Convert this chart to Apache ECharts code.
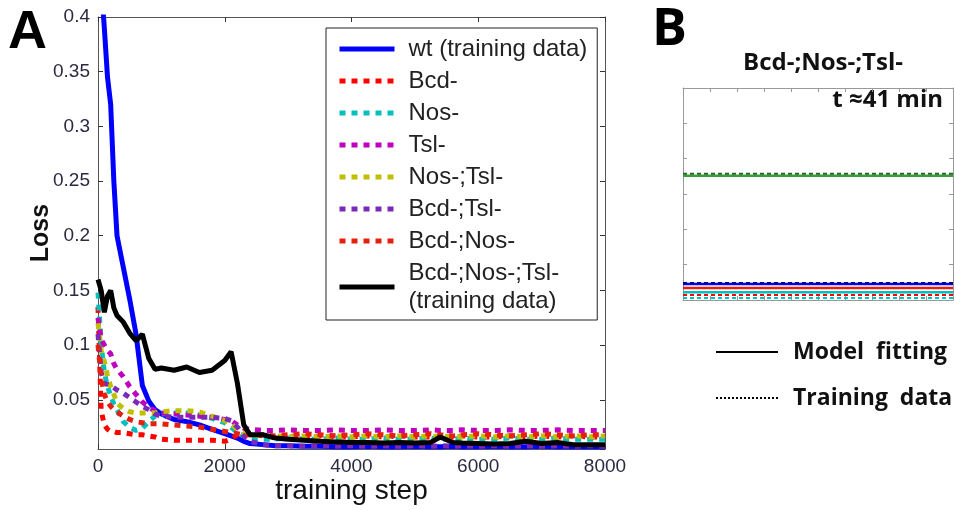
<!DOCTYPE html>
<html>
<head>
<meta charset="utf-8">
<script src="https://cdn.jsdelivr.net/npm/echarts@6/dist/echarts.min.js"></script>
<style>
  html, body { margin: 0; padding: 0; background: #fff; }
  #chart { width: 954px; height: 510px; }
</style>
</head>
<body>
<div id="chart"></div>
<script>
// training steps shared by every loss curve
const steps = [0, 50, 100, 150, 200, 250, 300, 400, 500, 600, 700, 800, 900, 1000, 1200, 1400, 1600, 1800, 2000, 2100, 2200, 2300,
  2400, 2600, 2800, 3000, 3250, 3500, 3750, 4000, 4250, 4500, 4750, 5000, 5250, 5400, 5600, 5750, 6000, 6250, 6500, 6750, 7000, 7250, 7500, 7750, 8000];

const lossWt = [0.46, 0.43, 0.39, 0.345, 0.32, 0.25, 0.2, 0.171, 0.142, 0.11, 0.063, 0.049, 0.041, 0.037, 0.032, 0.030, 0.027, 0.023, 0.019, 0.017, 0.015, 0.012,
  0.010, 0.009, 0.008, 0.008, 0.0075, 0.0075, 0.007, 0.007, 0.0075, 0.007, 0.007, 0.0075, 0.007, 0.007, 0.0075, 0.007, 0.007, 0.0075, 0.007, 0.007, 0.0075, 0.007, 0.007, 0.007, 0.007];
const lossBcd = [0.135, 0.04, 0.027, 0.023, 0.021, 0.021, 0.020, 0.020, 0.019, 0.018, 0.018, 0.017, 0.016, 0.014, 0.013, 0.013, 0.013, 0.013, 0.012, 0.014, 0.018, 0.019,
  0.018, 0.017, 0.016, 0.017, 0.016, 0.017, 0.016, 0.016, 0.017, 0.016, 0.017, 0.016, 0.016, 0.017, 0.016, 0.017, 0.016, 0.016, 0.017, 0.016, 0.017, 0.016, 0.017, 0.016, 0.016];
const lossNos = [0.148, 0.1, 0.075, 0.062, 0.054, 0.046, 0.041, 0.03, 0.025, 0.022, 0.024, 0.030, 0.035, 0.037, 0.038, 0.038, 0.036, 0.033, 0.029, 0.025, 0.02, 0.017,
  0.015, 0.014, 0.014, 0.015, 0.014, 0.014, 0.015, 0.014, 0.014, 0.015, 0.014, 0.014, 0.015, 0.014, 0.014, 0.015, 0.014, 0.014, 0.015, 0.014, 0.014, 0.015, 0.014, 0.014, 0.014];
const lossTsl = [0.125, 0.105, 0.1, 0.095, 0.092, 0.083, 0.078, 0.071, 0.062, 0.055, 0.048, 0.043, 0.04, 0.038, 0.037, 0.036, 0.035, 0.034, 0.032, 0.031, 0.027, 0.024,
  0.023, 0.022, 0.022, 0.0225, 0.022, 0.022, 0.0225, 0.022, 0.022, 0.0225, 0.022, 0.022, 0.0225, 0.022, 0.022, 0.0225, 0.022, 0.022, 0.0225, 0.022, 0.022, 0.0225, 0.022, 0.022, 0.022];
const lossNosTsl = [0.12, 0.095, 0.085, 0.072, 0.062, 0.055, 0.047, 0.042, 0.039, 0.038, 0.038, 0.038, 0.038, 0.039, 0.040, 0.040, 0.039, 0.035, 0.031, 0.028, 0.023, 0.019,
  0.018, 0.017, 0.017, 0.016, 0.017, 0.016, 0.017, 0.016, 0.017, 0.016, 0.017, 0.016, 0.017, 0.016, 0.017, 0.016, 0.017, 0.016, 0.017, 0.016, 0.017, 0.016, 0.017, 0.016, 0.017];
const lossBcdTsl = [0.11, 0.075, 0.065, 0.064, 0.063, 0.061, 0.059, 0.056, 0.052, 0.048, 0.044, 0.041, 0.037, 0.035, 0.034, 0.034, 0.034, 0.034, 0.033, 0.031, 0.025, 0.017,
  0.012, 0.009, 0.008, 0.008, 0.0075, 0.008, 0.0075, 0.008, 0.0075, 0.008, 0.0075, 0.008, 0.0075, 0.008, 0.0075, 0.008, 0.0075, 0.008, 0.0075, 0.008, 0.0075, 0.008, 0.0075, 0.008, 0.0075];
const lossBcdNos = [0.1, 0.07, 0.055, 0.048, 0.044, 0.041, 0.039, 0.035, 0.032, 0.030, 0.029, 0.028, 0.028, 0.028, 0.027, 0.026, 0.025, 0.023, 0.021, 0.020, 0.019, 0.018,
  0.018, 0.018, 0.017, 0.018, 0.019, 0.018, 0.017, 0.018, 0.019, 0.018, 0.017, 0.018, 0.019, 0.018, 0.017, 0.018, 0.019, 0.018, 0.017, 0.018, 0.019, 0.018, 0.017, 0.018, 0.018];
const lossTriple = [0.16, 0.15, 0.13, 0.145, 0.15, 0.134, 0.127, 0.121, 0.111, 0.104, 0.110, 0.088, 0.078, 0.079, 0.077, 0.080, 0.075, 0.077, 0.086, 0.094, 0.065, 0.027,
  0.018, 0.018, 0.015, 0.014, 0.013, 0.012, 0.0115, 0.011, 0.011, 0.0105, 0.011, 0.0105, 0.011, 0.016, 0.011, 0.0105, 0.010, 0.0095, 0.010, 0.012, 0.010, 0.011, 0.009, 0.009, 0.009];

const seriesNames = ['wt (training data)', 'Bcd-', 'Nos-', 'Tsl-', 'Nos-;Tsl-', 'Bcd-;Tsl-', 'Bcd-;Nos-', 'Bcd-;Nos-;Tsl-\n(training data)'];
const seriesColors = ['#0000ff', '#ff0000', '#00bfbf', '#bf00bf', '#bfbf00', '#7a2ab8', '#e5200e', '#000000'];
const seriesLoss = [lossWt, lossBcd, lossNos, lossTsl, lossNosTsl, lossBcdTsl, lossBcdNos, lossTriple];

// panel B: flat profiles (model fitting solid, training data dotted)
const bX = [0, 1];
const bFitLevels = [3.52, 0.45, 0.34, 0.22];
const bFitColors = ['#3c9c3c', '#0000ff', '#e5200e', '#00bfbf'];
const bDataLevels = [3.57, 0.48, 0.14, 0.06];
const bDataColors = ['#1e6a1e', '#00008b', '#ff0000', '#00bfbf'];

let myChart = echarts.init(document.getElementById('chart'));

let series = seriesNames.map(function (name, i) {
  let solid = (i === 0 || i === 7);
  return {
    name: name,
    type: 'line',
    xAxisIndex: 0,
    yAxisIndex: 0,
    symbol: 'none',
    clip: true,
    data: steps.map(function (s, k) { return [s, seriesLoss[i][k]]; }),
    lineStyle: {
      color: seriesColors[i],
      width: 5,
      type: solid ? 'solid' : [6, 6],
      cap: 'butt'
    },
    itemStyle: { color: seriesColors[i] }
  };
});

bFitLevels.forEach(function (v, i) {
  series.push({
    type: 'line', xAxisIndex: 2, yAxisIndex: 2, symbol: 'none', silent: true,
    data: bX.map(function (x) { return [x, v]; }),
    lineStyle: { color: bFitColors[i], width: 2.5 }
  });
});
bDataLevels.forEach(function (v, i) {
  series.push({
    type: 'line', xAxisIndex: 2, yAxisIndex: 2, symbol: 'none', silent: true,
    data: bX.map(function (x) { return [x, v]; }),
    lineStyle: { color: bDataColors[i], width: 2, type: [4, 3] }
  });
});

let tickLabel = { color: '#2a2a40', fontSize: 19, fontFamily: 'Liberation Sans, Arial, sans-serif' };
let boxLine = { show: true, onZero: false, lineStyle: { color: '#555', width: 1 } };
let boxTick = { show: true, inside: true, length: 5, lineStyle: { color: '#333' } };
let bLine = { show: true, onZero: false, lineStyle: { color: '#999', width: 1 } };
let bTick = { show: true, inside: true, length: 4, lineStyle: { color: '#999' } };
let boldB = 'Open Sans, sans-serif';

let option = {
  animation: false,
  backgroundColor: '#fff',
  grid: [
    { left: 98, top: 17, width: 507, height: 433 },
    { left: 683, top: 88, width: 270, height: 212 }
  ],
  legend: {
    data: seriesNames,
    orient: 'vertical',
    left: 326,
    top: 28,
    itemWidth: 55,
    itemHeight: 14,
    itemGap: 4,
    padding: [7, 10, 5, 11],
    backgroundColor: '#fff',
    borderColor: '#222',
    borderWidth: 1,
    selectedMode: false,
    itemStyle: { opacity: 0 },
    lineStyle: { width: 5 },
    textStyle: { color: '#222', fontSize: 24, lineHeight: 28, fontFamily: 'Liberation Sans, Arial, sans-serif', padding: [0, 0, 0, 9] }
  },
  xAxis: [
    {
      type: 'value', gridIndex: 0, min: 0, max: 8000, interval: 2000,
      name: 'training step', nameLocation: 'middle', nameGap: 28, nameMoveOverlap: false,
      nameTextStyle: { color: '#111', fontSize: 28, fontFamily: 'Liberation Sans, Arial, sans-serif' },
      axisLine: boxLine, axisTick: boxTick,
      axisLabel: Object.assign({ margin: 8, formatter: function (v) { return String(v); } }, tickLabel),
      splitLine: { show: false }
    },
    {
      type: 'value', gridIndex: 0, min: 0, max: 8000, interval: 2000, position: 'top',
      axisLine: boxLine, axisTick: boxTick,
      axisLabel: { show: false },
      splitLine: { show: false }
    },
    {
      type: 'value', gridIndex: 1, min: 0, max: 1, interval: 0.1,
      axisLine: bLine, axisTick: bTick,
      axisLabel: { show: false },
      splitLine: { show: false }
    },
    {
      type: 'value', gridIndex: 1, min: 0, max: 1, interval: 0.1, position: 'top',
      axisLine: bLine, axisTick: bTick,
      axisLabel: { show: false },
      splitLine: { show: false }
    }
  ],
  yAxis: [
    {
      type: 'value', gridIndex: 0, min: 0.005, max: 0.4, splitNumber: 8,
      name: 'Loss', nameLocation: 'middle', nameGap: 44, nameRotate: 90, nameMoveOverlap: false,
      nameTextStyle: { color: '#111', fontSize: 25, fontWeight: 'bold', fontFamily: 'Liberation Sans, Arial, sans-serif' },
      axisLine: boxLine, axisTick: boxTick,
      axisLabel: Object.assign({ margin: 8, showMinLabel: false }, tickLabel),
      splitLine: { show: false }
    },
    {
      type: 'value', gridIndex: 0, min: 0.005, max: 0.4, splitNumber: 8, position: 'right',
      axisLine: boxLine, axisTick: boxTick,
      axisLabel: { show: false },
      splitLine: { show: false }
    },
    {
      type: 'value', gridIndex: 1, min: 0, max: 6, interval: 1,
      axisLine: bLine, axisTick: bTick,
      axisLabel: { show: false },
      splitLine: { show: false }
    },
    {
      type: 'value', gridIndex: 1, min: 0, max: 6, interval: 1, position: 'right',
      axisLine: bLine, axisTick: bTick,
      axisLabel: { show: false },
      splitLine: { show: false }
    }
  ],
  graphic: [
    { type: 'text', x: 8, y: 6, style: { text: 'A', fill: '#000', font: 'bold 54px Liberation Sans, Arial, sans-serif' } },
    { type: 'text', x: 652, y: 4, style: { text: 'B', fill: '#000', font: 'bold 52px ' + boldB } },
    { type: 'text', x: 823, y: 63, style: { text: 'Bcd-;Nos-;Tsl-', fill: '#111', align: 'center', verticalAlign: 'middle', font: 'bold 24px ' + boldB } },
    { type: 'text', x: 943, y: 100, style: { text: 't \u224841 min', fill: '#111', align: 'right', verticalAlign: 'middle', font: 'bold 24px ' + boldB } },
    { type: 'line', shape: { x1: 716, y1: 352, x2: 778, y2: 352 }, style: { stroke: '#000', lineWidth: 2 } },
    { type: 'text', x: 793, y: 352, style: { text: 'Model  fitting', fill: '#111', verticalAlign: 'middle', font: 'bold 23px ' + boldB } },
    { type: 'line', shape: { x1: 716, y1: 398, x2: 778, y2: 398 }, style: { stroke: '#000', lineWidth: 2, lineDash: [2, 2] } },
    { type: 'text', x: 793, y: 398, style: { text: 'Training  data', fill: '#111', verticalAlign: 'middle', font: 'bold 23px ' + boldB } }
  ],
  series: series
};

myChart.setOption(option);
</script>
</body>
</html>
